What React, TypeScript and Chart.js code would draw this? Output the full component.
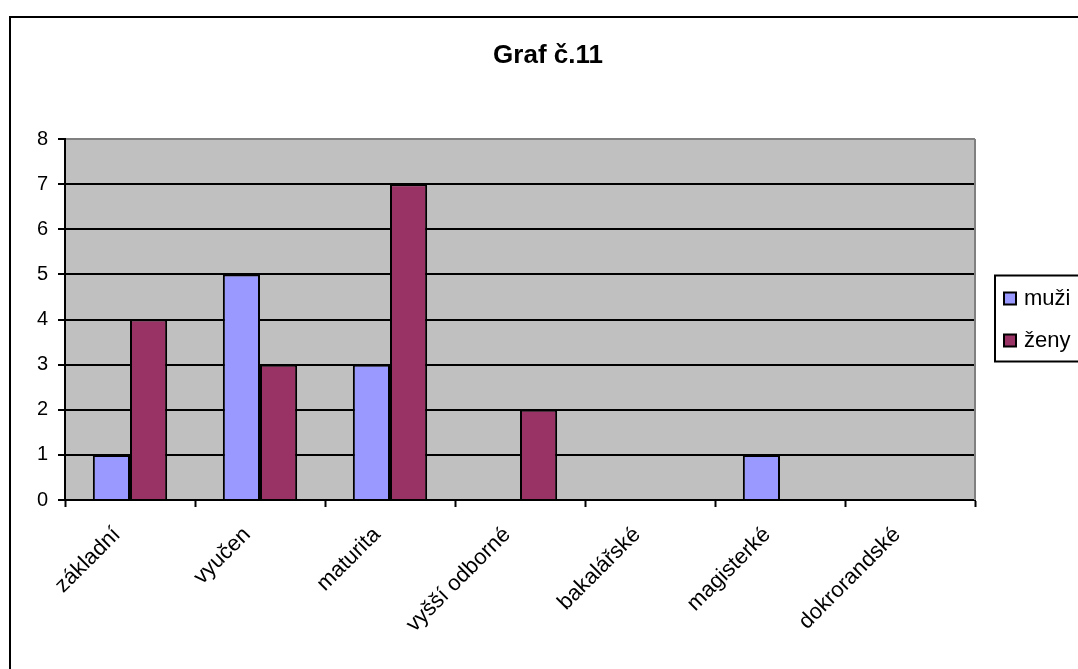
import React, { useEffect, useRef } from "react";
import { Chart, registerables } from "chart.js";

Chart.register(...registerables);

const categories = ["základní", "vyučen", "maturita", "vyšší odborné", "bakalářské", "magisterké", "dokrorandské"];
const muzi = [1, 5, 3, 0, 0, 1, 0];
const zeny = [4, 3, 7, 2, 0, 0, 0];
const seriesNames = ["muži", "ženy"];
const titleText = "Graf č.11";
const yMin = 0;
const yMax = 8;
const yStep = 1;

const FONT = "'Liberation Sans', Arial, sans-serif";

const bgPlugin = {
  id: "plotBg",
  beforeDraw(chart: any) {
    const { ctx, chartArea } = chart;
    ctx.save();
    ctx.fillStyle = "#C0C0C0";
    ctx.fillRect(chartArea.left, chartArea.top, chartArea.right - chartArea.left, chartArea.bottom - chartArea.top);
    ctx.restore();
  },
  afterDatasetsDraw(chart: any) {
    const { ctx, chartArea } = chart;
    ctx.save();
    ctx.strokeStyle = "#808080";
    ctx.lineWidth = 2;
    ctx.beginPath();
    ctx.moveTo(chartArea.right, chartArea.top);
    ctx.lineTo(chartArea.right, chartArea.bottom);
    ctx.stroke();
    ctx.restore();
  },
};

const titleLegendPlugin = {
  id: "titleLegend",
  afterDraw(chart: any) {
    const { ctx, chartArea } = chart;
    ctx.save();
    // title
    ctx.fillStyle = "#000";
    ctx.font = `bold 26px ${FONT}`;
    ctx.textAlign = "center";
    ctx.textBaseline = "middle";
    ctx.fillText(titleText, 548, 56);
    // legend
    const midY = (chartArea.top + chartArea.bottom) / 2;
    const boxTop = midY - 44;
    const boxH = 86;
    const boxLeft = 995;
    ctx.fillStyle = "#fff";
    ctx.fillRect(boxLeft, boxTop, 120, boxH);
    ctx.strokeStyle = "#000";
    ctx.lineWidth = 2;
    ctx.strokeRect(boxLeft, boxTop, 120, boxH);
    chart.data.datasets.forEach((ds: any, i: number) => {
      const cy = boxTop + 23 + i * 42;
      ctx.fillStyle = ds.backgroundColor;
      ctx.fillRect(1004, cy - 6, 12, 12);
      ctx.strokeStyle = "#000";
      ctx.lineWidth = 2;
      ctx.strokeRect(1004, cy - 6, 12, 12);
      ctx.fillStyle = "#000";
      ctx.font = `22px ${FONT}`;
      ctx.textAlign = "left";
      ctx.textBaseline = "middle";
      ctx.fillText(ds.label, 1024, cy);
    });
    ctx.restore();
  },
};

export default function App() {
  const canvasRef = useRef<HTMLCanvasElement | null>(null);

  useEffect(() => {
    const canvas = canvasRef.current;
    if (!canvas) return;
    const chart = new Chart(canvas, {
      type: "bar",
      data: {
        labels: categories,
        datasets: [
          {
            label: seriesNames[0],
            data: muzi,
            backgroundColor: "#9999FF",
            borderColor: "#000",
            borderWidth: 2,
          },
          {
            label: seriesNames[1],
            data: zeny,
            backgroundColor: "#993366",
            borderColor: "#000",
            borderWidth: 2,
          },
        ],
      },
      options: {
        responsive: false,
        animation: false,
        devicePixelRatio: 1,
        layout: { padding: { left: 10, top: 139, right: 103, bottom: 19 } },
        datasets: {
          bar: { categoryPercentage: 2 / 3.5, barPercentage: 1 },
        },
        plugins: {
          legend: { display: false },
          title: { display: false },
          tooltip: { enabled: false },
        },
        scales: {
          x: {
            offset: true,
            afterFit: (s: any) => {
              s.height = 150;
            },
            grid: {
              display: true,
              offset: true,
              drawOnChartArea: false,
              drawTicks: true,
              tickLength: 7,
              tickColor: "#000",
              tickWidth: 2,
            },
            border: { display: true, color: "#000", width: 2 },
            ticks: {
              autoSkip: false,
              minRotation: 45,
              maxRotation: 45,
              color: "#000",
              font: { family: FONT, size: 22 },
              padding: 15,
              labelOffset: -13,
            },
          },
          y: {
            min: yMin,
            max: yMax,
            afterFit: (s: any) => {
              s.width = 55;
            },
            grid: {
              color: (c: any) => (c.tick && c.tick.value === yMax ? "#808080" : "#000"),
              lineWidth: 2,
              drawTicks: true,
              tickLength: 7,
              tickColor: "#000",
              tickWidth: 2,
            },
            border: { display: true, color: "#000", width: 2 },
            ticks: {
              stepSize: yStep,
              color: "#000",
              padding: 10,
              font: { family: FONT, size: 20 },
            },
          },
        },
      },
      plugins: [bgPlugin, titleLegendPlugin],
    });
    return () => chart.destroy();
  }, []);

  return (
    <div
      style={{
        position: "fixed",
        left: 0,
        top: 0,
        width: 1078,
        height: 669,
        overflow: "hidden",
        background: "#fff",
      }}
    >
      <div
        style={{
          position: "absolute",
          left: 9,
          top: 16,
          width: 1200,
          height: 800,
          border: "2px solid #000",
          boxSizing: "border-box",
        }}
      />
      <canvas
        ref={canvasRef}
        width={1078}
        height={669}
        style={{ position: "absolute", left: 0, top: 0, width: 1078, height: 669 }}
      />
    </div>
  );
}
